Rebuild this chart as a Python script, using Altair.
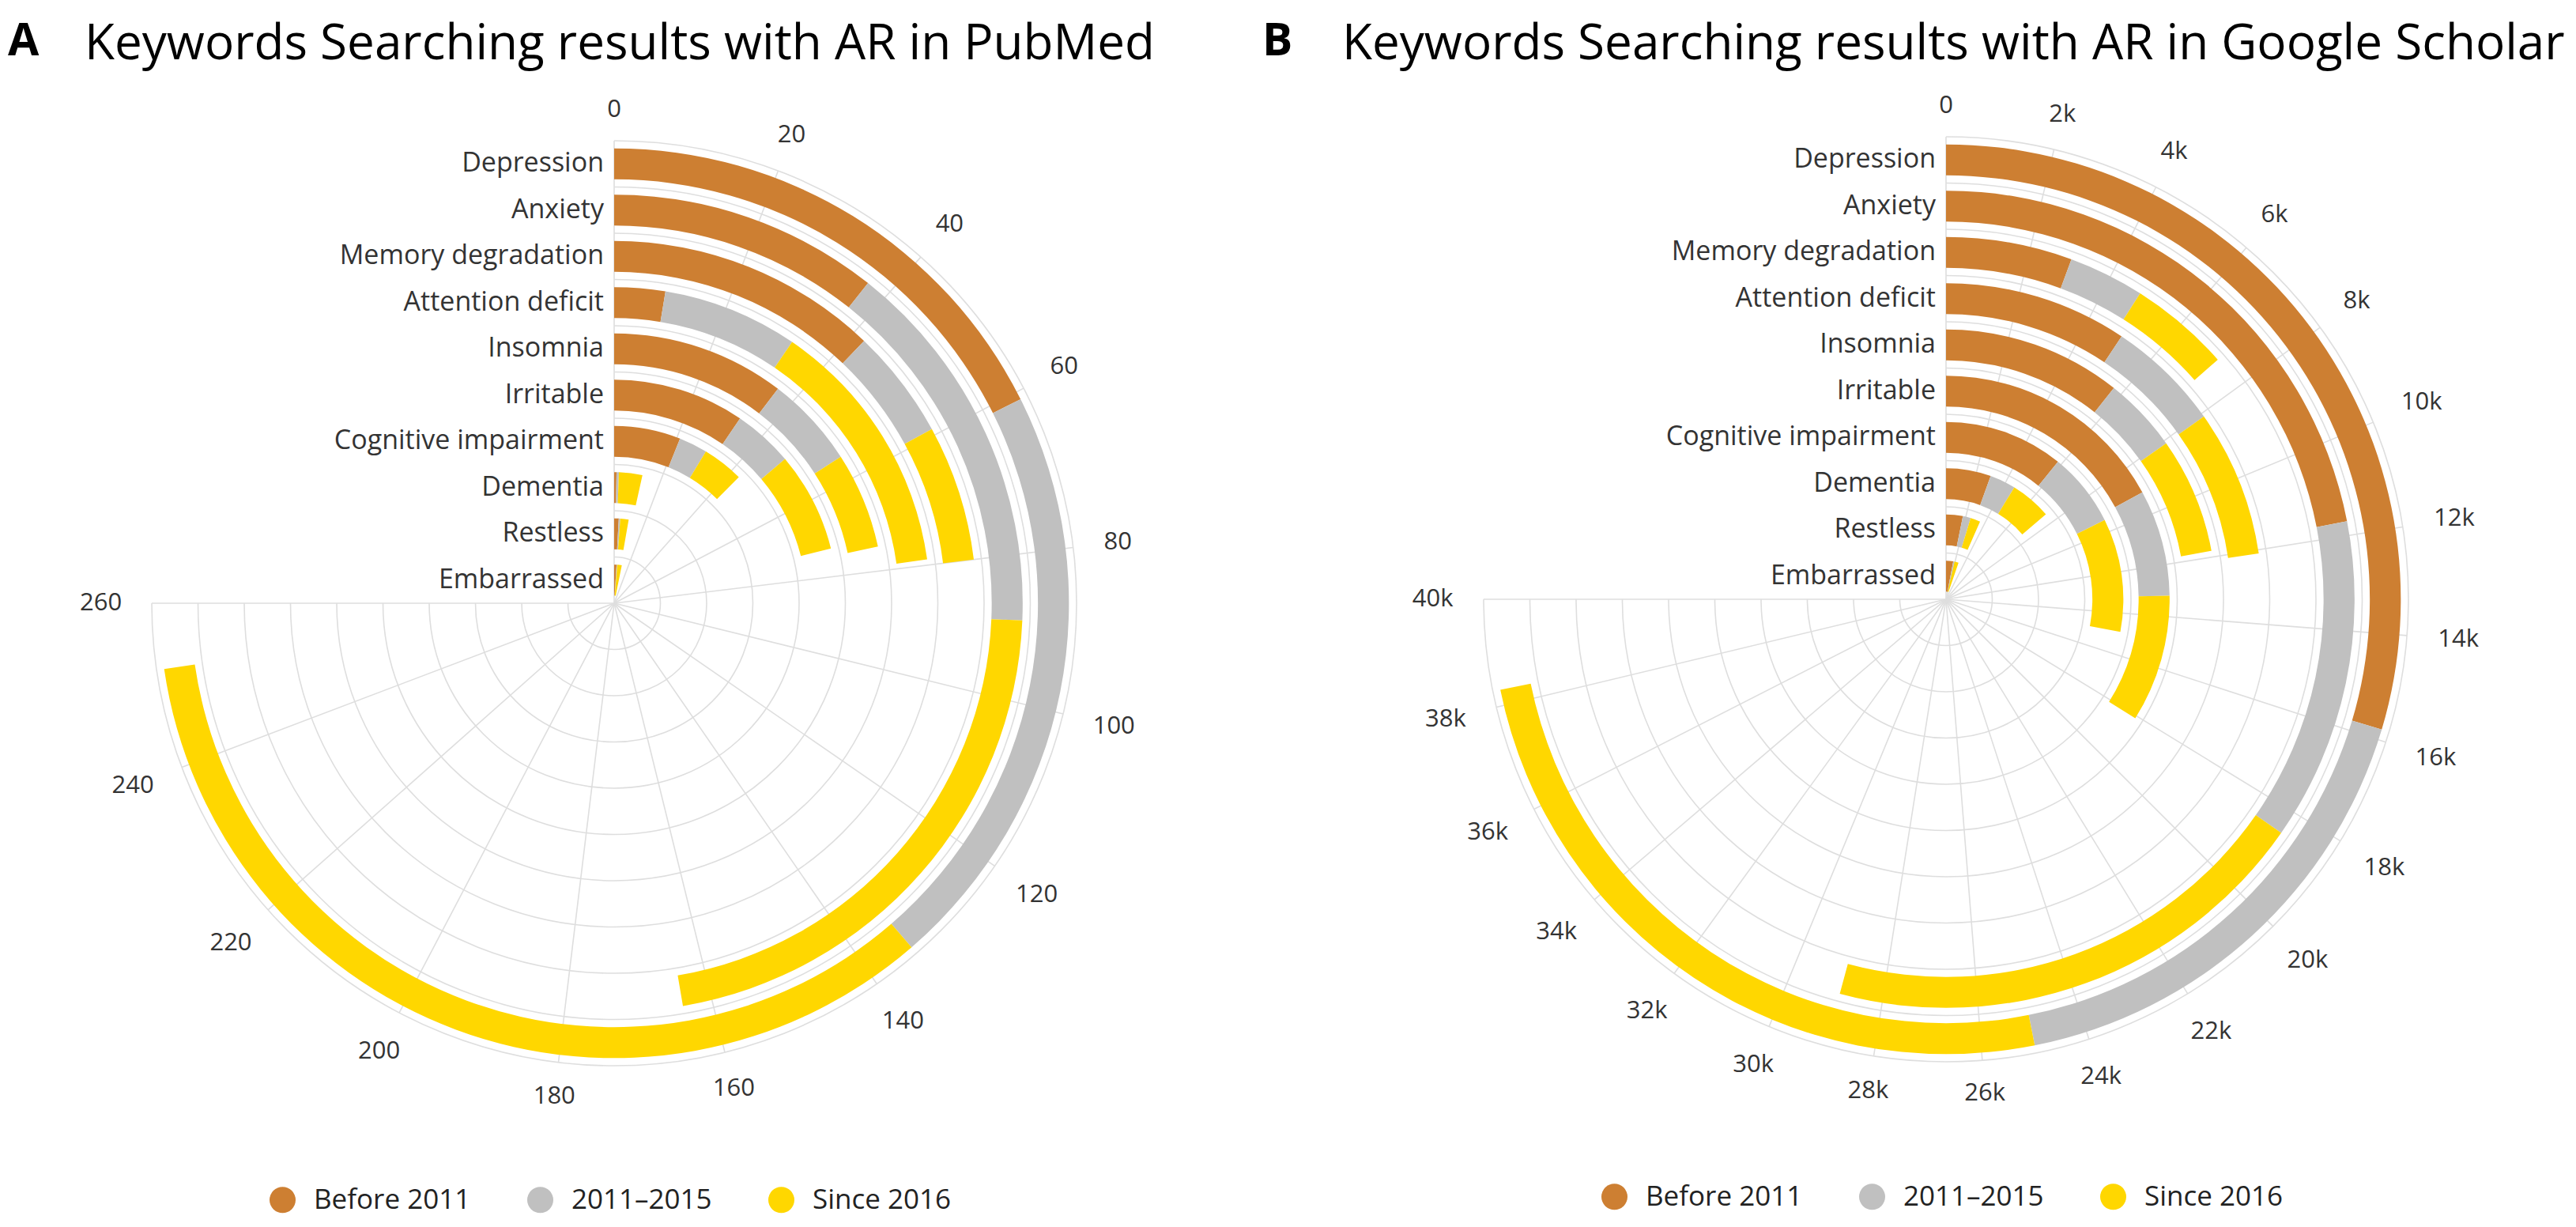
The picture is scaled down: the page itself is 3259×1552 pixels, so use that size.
import altair as alt
import pandas as pd
import numpy as np

# ---------------- data ----------------
categories = ["Depression", "Anxiety", "Memory degradation", "Attention deficit",
              "Insomnia", "Irritable", "Cognitive impairment", "Dementia",
              "Restless", "Embarrassed"]
series = ["Before 2011", "2011–2015", "Since 2016"]
colors = ["#CD7F32", "#C0C0C0", "#FFD700"]

pubmed_before = [61, 37, 42, 9, 36, 33, 21, 1, 3, 3.5]
pubmed_mid    = [73, 52, 17, 24, 19, 15, 9, 1, 1, 1]
pubmed_since  = [118, 75, 21, 46, 20, 25, 13, 10, 5.5, 6.5]

scholar_before = [15800, 11700, 3000, 5000, 5700, 9100, 5800, 2950, 1700, 1600]
scholar_mid    = [9200, 6800, 1800, 3100, 2400, 4100, 3600, 1700, 800, 300]
scholar_since  = [13300, 10400, 2400, 4000, 3700, 4900, 5500, 2700, 1000, 900]

pubmed_ticks = [0, 20, 40, 60, 80, 100, 120, 140, 160, 180, 200, 220, 240, 260]
pubmed_tick_labels = ["0", "20", "40", "60", "80", "100", "120", "140", "160",
                      "180", "200", "220", "240", "260"]
scholar_ticks = [0, 2000, 4000, 6000, 8000, 10000, 12000, 14000, 16000, 18000,
                 20000, 22000, 24000, 26000, 28000, 30000, 32000, 34000, 36000,
                 38000, 40000]
scholar_tick_labels = ["0", "2k", "4k", "6k", "8k", "10k", "12k", "14k", "16k",
                       "18k", "20k", "22k", "24k", "26k", "28k", "30k", "32k",
                       "34k", "36k", "38k", "40k"]

titles = ["Keywords Searching results with AR in PubMed",
          "Keywords Searching results with AR in Google Scholar"]
letters = ["A", "B"]

FONT = "Open Sans"
N = len(categories)
R_PX = 585
GRID = "#dedede"
TITLE_SIZE = 62
LETTER_SIZE = 57


def panel(letter, title, before, mid, since, ticks, tick_labels, vmax,
          cx, cy, width, height, title_x, legend_x, legend_y):
    rows = []
    for i, cat in enumerate(categories):
        idx = N - 1 - i
        s = 0
        for ser, vals in zip(series, [before, mid, since]):
            v = vals[i]
            rows.append(dict(category=cat, series=ser, start=s, end=s + v, idx=idx))
            s += v
    bars_df = pd.DataFrame(rows)
    ring_df = pd.DataFrame({"k": list(range(1, N + 1))})
    tick_df = pd.DataFrame({"value": ticks, "label": tick_labels})
    cat_df = pd.DataFrame({"category": categories,
                           "idx": [N - 1 - i for i in range(N)]})

    th = alt.Scale(domain=[0, vmax], range=[0, 1.5 * np.pi])
    rs = alt.Scale(type="linear", domain=[0, N], range=[0, R_PX])
    X = alt.value(cx)
    Y = alt.value(cy)

    rings = alt.Chart(ring_df).transform_calculate(
        t0="0", t1=str(vmax)
    ).mark_arc(filled=False, color=GRID, strokeWidth=1.6).encode(
        theta=alt.Theta("t0:Q", scale=th), theta2="t1:Q",
        radius=alt.Radius("k:Q", scale=rs), radius2="k:Q", x=X, y=Y)

    spokes = alt.Chart(tick_df).transform_calculate(
        r0="0", r1=str(N)
    ).mark_arc(filled=False, color=GRID, strokeWidth=1.6).encode(
        theta=alt.Theta("value:Q", scale=th), theta2="value:Q",
        radius=alt.Radius("r0:Q", scale=rs), radius2="r1:Q", x=X, y=Y)

    bars = alt.Chart(bars_df).transform_calculate(
        ri="datum.idx + 0.165", ro="datum.idx + 0.835"
    ).mark_arc().encode(
        theta=alt.Theta("start:Q", scale=th), theta2="end:Q",
        radius=alt.Radius("ri:Q", scale=rs), radius2="ro:Q",
        color=alt.Color("series:N", scale=alt.Scale(domain=series, range=colors),
                        legend=alt.Legend(orient="none", legendX=legend_x,
                                          legendY=legend_y, direction="horizontal",
                                          title=None, symbolType="circle",
                                          symbolSize=1089, symbolStrokeWidth=0,
                                          symbolOpacity=1,
                                          labelFont=FONT, labelFontSize=35,
                                          labelColor="#222", labelOffset=22,
                                          labelLimit=500, columnPadding=70)),
        x=X, y=Y)

    px_per = R_PX / N
    tlabels = alt.Chart(tick_df).transform_calculate(
        t=f"datum.value / {vmax} * 1.5 * PI"
    ).transform_calculate(
        lr=f"{N} + (27 + abs(sin(datum.t)) * (11 + 8.8 * length(datum.label)) "
           f"+ 12 * abs(cos(datum.t))) / {px_per}"
    ).mark_text(font=FONT, fontSize=31, color="#333", align="center",
                baseline="middle").encode(
        theta=alt.Theta("value:Q", scale=th),
        radius=alt.Radius("lr:Q", scale=rs),
        text="label:N", x=X, y=Y)

    clabels = alt.Chart(cat_df).transform_calculate(
        rc="datum.idx + 0.5"
    ).mark_text(font=FONT, fontSize=34, color="#333", align="right",
                baseline="middle", dx=-13).encode(
        theta=alt.value(0),
        radius=alt.Radius("rc:Q", scale=rs),
        text="category:N", x=X, y=Y)

    letter_t = alt.Chart(pd.DataFrame({"t": [letter]})).mark_text(
        font=FONT, fontSize=LETTER_SIZE, fontWeight="bold", color="black",
        align="left", baseline="alphabetic").encode(
        text="t:N", x=alt.value(title_x[0]), y=alt.value(62))

    title_t = alt.Chart(pd.DataFrame({"t": [title]})).mark_text(
        font=FONT, fontSize=TITLE_SIZE, color="black",
        align="left", baseline="alphabetic").encode(
        text="t:N", x=alt.value(title_x[1]), y=alt.value(67))

    return alt.layer(rings, spokes, bars, tlabels, clabels, letter_t, title_t).properties(
        width=width, height=height)


pA = panel(letters[0], titles[0], pubmed_before, pubmed_mid, pubmed_since,
           pubmed_ticks, pubmed_tick_labels, 260,
           769, 755, 1580, 1536, (2, 99), 332, 1492)
pB = panel(letters[1], titles[1], scholar_before, scholar_mid, scholar_since,
           scholar_ticks, scholar_tick_labels, 40000,
           874, 750, 1663, 1536, (9, 110), 437, 1488)

chart = alt.hconcat(pA, pB, spacing=0).resolve_scale(
    theta="independent", radius="independent", color="independent"
).resolve_legend(color="independent").properties(padding=0).configure_view(strokeWidth=0)

chart.save("out.html", embed_options={"renderer": "svg", "actions": False})
